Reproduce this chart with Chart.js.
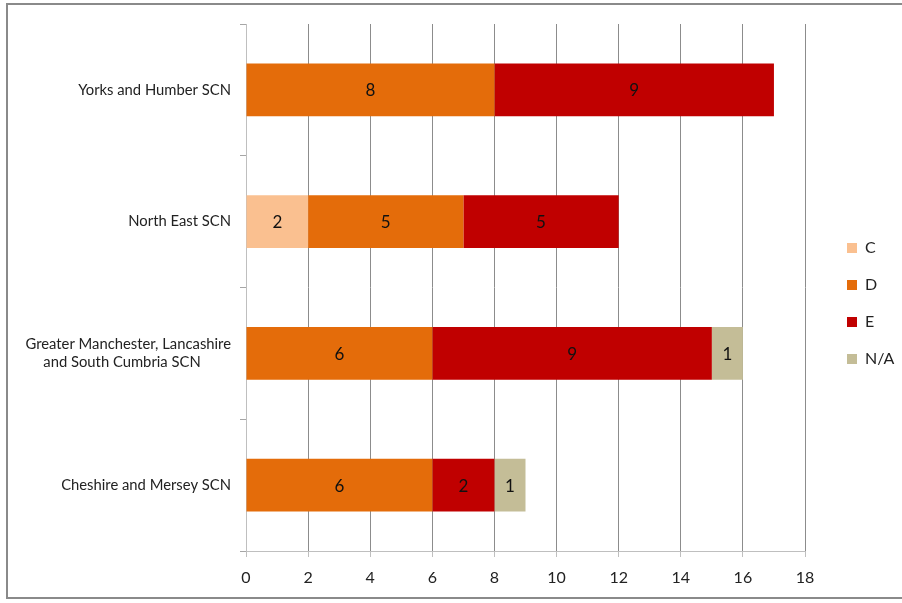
<!DOCTYPE html>
<html>
<head>
<meta charset="utf-8">
<script src="https://cdn.jsdelivr.net/npm/chart.js@4"></script>
<style>
    body { margin: 0; background: #fff; }
    #wrap { position: absolute; left: 0; top: 0; width: 902px; height: 603px; }
    #frame { position: absolute; left: 6px; top: 3px; width: 900px; height: 596px; border: 2px solid #8a8a8a; box-sizing: border-box; }
</style>
</head>
<body>
<div id="wrap">
    <div id="frame"></div>
    <canvas id="myChart" width="902" height="603"></canvas>
</div>
<script>
const labels = [
    "Yorks and Humber SCN",
    "North East SCN",
    ["Greater Manchester, Lancashire", "and South Cumbria SCN        "],
    "Cheshire and Mersey SCN",
];
const seriesNames = ["C", "D", "E", "N/A"];
const valuesC = [0, 2, 0, 0];
const valuesD = [8, 5, 6, 6];
const valuesE = [9, 5, 9, 2];
const valuesNA = [0, 0, 1, 1];
const xTicks = [0, 2, 4, 6, 8, 10, 12, 14, 16, 18];

const colors = ["#fac090", "#e46c0a", "#c00000", "#c4bd97"];
const font = "Lato";

// numbers in the middle of each segment
const barLabels = {
    id: "barLabels",
    afterDatasetsDraw(chart) {
        const ctx = chart.ctx;
        ctx.save();
        ctx.font = "17px " + font;
        ctx.fillStyle = "#111";
        ctx.textAlign = "center";
        ctx.textBaseline = "middle";
        chart.data.datasets.forEach((ds, i) => {
            chart.getDatasetMeta(i).data.forEach((bar, j) => {
                if (!ds.data[j]) return;
                ctx.fillText(ds.data[j], (bar.x + bar.base) / 2, bar.y + 1);
            });
        });
        ctx.restore();
    },
};

// fixed legend column on the right
const legendBox = {
    id: "legendBox",
    beforeLayout(chart) {
        const lg = chart.legend;
        if (lg && !lg._fixed) {
            const fit = lg.fit.bind(lg);
            lg.fit = function () {
                fit();
                this.width = 97;
            };
            lg._fixed = true;
        }
    },
    afterLayout(chart) {
        chart.legend.left += 21;
        chart.legend.right += 21;
        chart.legend.top -= 10;
        chart.legend.bottom -= 10;
    },
};

const ctx = document.querySelector("#myChart");

new Chart(ctx, {
    type: "bar",
    data: {
        labels: labels,
        datasets: [valuesC, valuesD, valuesE, valuesNA].map((vals, i) => ({
            label: seriesNames[i],
            data: vals,
            backgroundColor: colors[i],
            categoryPercentage: 1,
            barPercentage: 0.4,
        })),
    },
    options: {
        indexAxis: "y",
        responsive: false,
        animation: false,
        layout: { padding: { top: 24, left: 0, right: 0, bottom: 0 } },
        scales: {
            x: {
                stacked: true,
                min: 0,
                max: 18,
                afterBuildTicks: (scale) => {
                    scale.ticks = xTicks.map((v) => ({ value: v }));
                },
                afterFit: (scale) => {
                    scale.height = 52;
                },
                grid: { color: "#8c8c8c", tickColor: "#bfbfbf", tickLength: 6 },
                border: { color: "#bfbfbf" },
                ticks: { padding: 11, color: "#222", font: { family: font, size: 16 } },
            },
            y: {
                stacked: true,
                afterFit: (scale) => {
                    scale.width = 246;
                },
                grid: { drawOnChartArea: false, tickColor: "#a6a6a6", tickLength: 6, offset: true },
                border: { color: "#bfbfbf" },
                ticks: { padding: 9, color: "#222", font: { family: font, size: 14.8 } },
            },
        },
        plugins: {
            legend: {
                position: "right",
                labels: {
                    boxWidth: 10,
                    boxHeight: 10,
                    padding: 21,
                    color: "#222",
                    font: { family: font, size: 16 },
                },
            },
            tooltip: { enabled: false },
        },
    },
    plugins: [barLabels, legendBox],
});
</script>
</body>
</html>
